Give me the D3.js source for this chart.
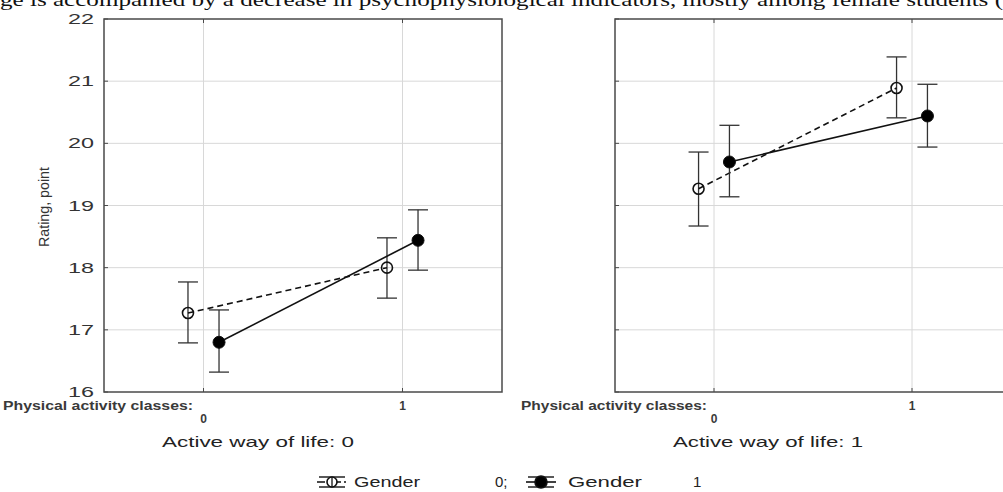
<!DOCTYPE html>
<html>
<head>
<meta charset="utf-8">
<script src="https://cdn.jsdelivr.net/npm/d3@7/dist/d3.min.js"></script>
<style>
  html, body { margin: 0; padding: 0; background: #fff; overflow: hidden; }
  svg { display: block; }
  text { font-family: "Liberation Sans", Arial, sans-serif; fill: #222; }
</style>
</head>
<body>
<svg id="chart" width="1003" height="492"></svg>
<script>
// ---- data ----
const categories = [0, 1];
const panelTitles = ["Active way of life: 0", "Active way of life: 1"];
const yTicks = [16, 17, 18, 19, 20, 21, 22];
const seriesNames = ["Gender", "Gender"];
const seriesCodes = ["0;", "1"];
// gender 0 (open markers, dashed)
const g0Mean  = [[17.27, 18.00], [19.27, 20.89]];
const g0Upper = [[17.77, 18.48], [19.86, 21.39]];
const g0Lower = [[16.79, 17.51], [18.67, 20.41]];
// gender 1 (filled markers, solid)
const g1Mean  = [[16.80, 18.44], [19.70, 20.44]];
const g1Upper = [[17.32, 18.93], [20.29, 20.95]];
const g1Lower = [[16.32, 17.96], [19.14, 19.94]];
const titleText = "ge is accompanied by a decrease in psychophysiological indicators, mostly among female students (";

// ---- layout ----
const svg = d3.select("#chart");
const plotTop = 19, plotBottom = 392;
const panelX = [[104, 502], [615, 1011]];
const y = d3.scaleLinear().domain([16, 22]).range([plotBottom, plotTop]);
const offsets = [-0.078, 0.078];
const frameColor = "#4a4a4a";

// caption text at the top (its upper half is cut by the picture edge, as in the reference)
svg.append("text")
  .attr("x", 0).attr("y", 6)
  .attr("textLength", 1003).attr("lengthAdjust", "spacingAndGlyphs")
  .style("font-family", "'Liberation Serif', 'Times New Roman', serif")
  .style("font-size", "19px").style("fill", "#111")
  .text(titleText);

const series = [
  { mean: g0Mean, up: g0Upper, lo: g0Lower, open: true },
  { mean: g1Mean, up: g1Upper, lo: g1Lower, open: false }
];

panelX.forEach((px, p) => {
  const x = d3.scaleLinear().domain([-0.5, 1.5]).range(px);
  const g = svg.append("g");

  // grid
  g.selectAll(".hg").data(yTicks.slice(1, -1)).enter().append("line")
    .attr("x1", px[0]).attr("x2", px[1])
    .attr("y1", d => y(d)).attr("y2", d => y(d))
    .attr("stroke", "#d8d8d8").attr("stroke-width", 1);
  g.selectAll(".vg").data(categories).enter().append("line")
    .attr("x1", d => x(d)).attr("x2", d => x(d))
    .attr("y1", plotTop).attr("y2", plotBottom)
    .attr("stroke", "#d8d8d8").attr("stroke-width", 1);

  // inward ticks
  g.selectAll(".yt").data(yTicks).enter().append("line")
    .attr("x1", px[0]).attr("x2", px[0] + 4)
    .attr("y1", d => y(d)).attr("y2", d => y(d))
    .attr("stroke", frameColor).attr("stroke-width", 1);
  g.selectAll(".xt").data(categories).enter().append("line")
    .attr("x1", d => x(d)).attr("x2", d => x(d))
    .attr("y1", plotTop).attr("y2", plotTop + 4)
    .attr("stroke", frameColor).attr("stroke-width", 1);
  g.selectAll(".xb").data(categories).enter().append("line")
    .attr("x1", d => x(d)).attr("x2", d => x(d))
    .attr("y1", plotBottom).attr("y2", plotBottom - 4)
    .attr("stroke", frameColor).attr("stroke-width", 1);

  // frame
  g.append("rect")
    .attr("x", px[0]).attr("y", plotTop)
    .attr("width", px[1] - px[0]).attr("height", plotBottom - plotTop)
    .attr("fill", "none").attr("stroke", frameColor).attr("stroke-width", 1.5);

  // y tick labels (left panel only)
  if (p === 0) {
    g.selectAll(".yl").data(yTicks).enter().append("text")
      .attr("x", 94).attr("y", d => y(d) + 5)
      .attr("text-anchor", "end")
      .attr("textLength", 26).attr("lengthAdjust", "spacingAndGlyphs")
      .style("font-size", "15px").style("fill", "#333")
      .text(d => d);
    g.append("text")
      .attr("transform", "translate(49,207) rotate(-90)")
      .attr("text-anchor", "middle")
      .attr("textLength", 80).attr("lengthAdjust", "spacingAndGlyphs")
      .style("font-size", "14px").style("fill", "#333")
      .text("Rating, point");
  }

  // x labels
  g.append("text")
    .attr("x", px[0] - (p === 0 ? 101 : 94)).attr("y", 410)
    .attr("textLength", p === 0 ? 190 : 186).attr("lengthAdjust", "spacingAndGlyphs")
    .style("font-size", "12px").style("font-weight", "bold").style("fill", "#3a3a3a")
    .text("Physical activity classes:");
  g.selectAll(".xl").data(categories).enter().append("text")
    .attr("x", d => x(d)).attr("y", d => d === 0 ? 423 : 410)
    .attr("text-anchor", "middle")
    .style("font-size", "12px").style("font-weight", "bold").style("fill", "#3a3a3a")
    .text(d => d);

  // panel title
  g.append("text")
    .attr("x", p === 0 ? 162 : 673).attr("y", 447)
    .attr("textLength", p === 0 ? 192 : 190).attr("lengthAdjust", "spacingAndGlyphs")
    .style("font-size", "15px").style("fill", "#222")
    .text(panelTitles[p]);

  // series
  series.forEach((s, si) => {
    const pts = categories.map((c, i) => ({
      x: x(c + offsets[si]), m: y(s.mean[p][i]), u: y(s.up[p][i]), l: y(s.lo[p][i])
    }));
    // error bars
    pts.forEach(d => {
      g.append("line").attr("x1", d.x).attr("x2", d.x).attr("y1", d.u).attr("y2", d.l)
        .attr("stroke", "#333").attr("stroke-width", 1.3);
      [d.u, d.l].forEach(yy => g.append("line")
        .attr("x1", d.x - 10).attr("x2", d.x + 10).attr("y1", yy).attr("y2", yy)
        .attr("stroke", "#333").attr("stroke-width", 1.3));
    });
    // line
    g.append("path")
      .attr("d", d3.line().x(d => d.x).y(d => d.m)(pts))
      .attr("fill", "none").attr("stroke", "#111").attr("stroke-width", 1.6)
      .attr("stroke-dasharray", s.open ? "6,4" : null);
    // markers
    g.selectAll(null).data(pts).enter().append("circle")
      .attr("cx", d => d.x).attr("cy", d => d.m).attr("r", s.open ? 5.5 : 6)
      .attr("fill", s.open ? "none" : "#000")
      .attr("stroke", "#111").attr("stroke-width", s.open ? 1.6 : 1);
  });
});

// legend
const legY = 482;
const legSym = [332, 541];
const legText = [[354, 66], [568, 74]];
const legCode = [495, 693];
series.forEach((s, si) => {
  const cx = legSym[si];
  const g = svg.append("g");
  g.append("line").attr("x1", cx - 13).attr("x2", cx + 13).attr("y1", legY - 5).attr("y2", legY - 5)
    .attr("stroke", "#222").attr("stroke-width", 1.5);
  g.append("line").attr("x1", cx - 13).attr("x2", cx + 13).attr("y1", legY + 5).attr("y2", legY + 5)
    .attr("stroke", "#222").attr("stroke-width", 1.5);
  g.append("line").attr("x1", cx - 15).attr("x2", cx + 15).attr("y1", legY).attr("y2", legY)
    .attr("stroke", "#111").attr("stroke-width", 1.6)
    .attr("stroke-dasharray", s.open ? "8,3,2,3" : null);
  g.append("circle").attr("cx", cx).attr("cy", legY).attr("r", s.open ? 5 : 6)
    .attr("fill", s.open ? "#fff" : "#000").attr("stroke", "#111").attr("stroke-width", 1.6);
  if (s.open) {
    g.append("line").attr("x1", cx).attr("x2", cx).attr("y1", legY - 5).attr("y2", legY + 5)
      .attr("stroke", "#111").attr("stroke-width", 1.3);
  }
  g.append("text").attr("x", legText[si][0]).attr("y", legY + 5)
    .attr("textLength", legText[si][1]).attr("lengthAdjust", "spacingAndGlyphs")
    .style("font-size", "15px").style("fill", "#222")
    .text(seriesNames[si]);
  g.append("text").attr("x", legCode[si]).attr("y", legY + 5)
    .style("font-size", "15px").style("fill", "#222")
    .text(seriesCodes[si]);
});
</script>
</body>
</html>
